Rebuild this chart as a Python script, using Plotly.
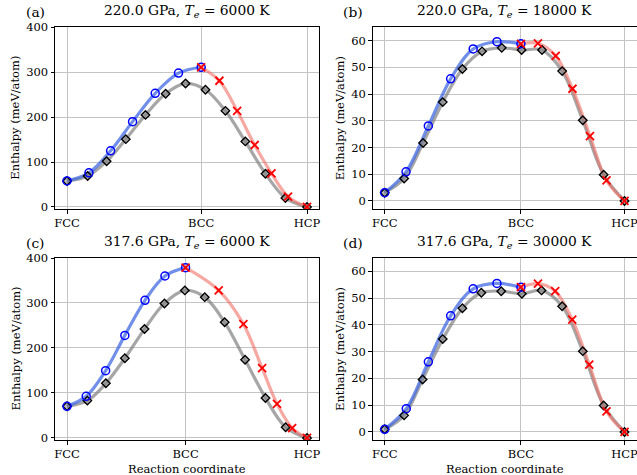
import plotly.graph_objects as go

# ---------------- data ----------------
panel_labels = ["(a)", "(b)", "(c)", "(d)"]
pressures = ["220.0", "220.0", "317.6", "317.6"]
temps = ["6000", "18000", "6000", "30000"]
tick_labels = ["FCC", "BCC", "HCP"]
bcc_pos = [0.559, 0.568, 0.494, 0.568]

# FCC -> BCC (blue circles)
a_fb_x = [0, 0.0915, 0.1817, 0.2732, 0.3675, 0.4646, 0.559]
a_fb_y = [58, 76, 125, 190, 253, 298, 311]
b_fb_x = [0, 0.089, 0.182, 0.275, 0.369, 0.468, 0.568]
b_fb_y = [3.1, 10.9, 28.1, 45.7, 56.9, 59.6, 58.8]
c_fb_x = [0, 0.080, 0.161, 0.241, 0.325, 0.408, 0.494]
c_fb_y = [70.4, 92.6, 149.6, 228, 306, 360, 378.5]
d_fb_x = [0, 0.090, 0.182, 0.275, 0.369, 0.468, 0.568]
d_fb_y = [1.0, 8.7, 26.2, 43.4, 53.5, 55.5, 54.1]

# BCC -> HCP (red crosses)
a_bh_x = [0.559, 0.635, 0.709, 0.782, 0.852, 0.921, 1.0]
a_bh_y = [311, 281, 214, 138, 75, 23, 0]
b_bh_x = [0.568, 0.639, 0.713, 0.783, 0.856, 0.925, 1.0]
b_bh_y = [58.8, 59.0, 54.3, 42.0, 24.3, 7.7, 0]
c_bh_x = [0.494, 0.632, 0.735, 0.813, 0.875, 0.938, 1.0]
c_bh_y = [378.5, 328, 253, 155, 76, 22, 0]
d_bh_x = [0.568, 0.639, 0.711, 0.782, 0.853, 0.925, 1.0]
d_bh_y = [54.1, 55.4, 52.6, 42.0, 25.2, 7.7, 0]

# FCC -> HCP direct (black diamonds)
a_fh_x = [0, 0.086, 0.165, 0.245, 0.327, 0.411, 0.494, 0.577, 0.660, 0.743, 0.827, 0.910, 1.0]
a_fh_y = [58, 69, 102, 151, 205, 252, 275, 261, 214, 146, 74, 20, 0]
b_fh_x = [0, 0.081, 0.160, 0.242, 0.324, 0.406, 0.488, 0.571, 0.656, 0.740, 0.826, 0.913, 1.0]
b_fh_y = [3.1, 8.4, 21.7, 37.0, 49.4, 56.0, 57.3, 56.5, 56.5, 48.6, 30.2, 9.8, 0]
c_fh_x = [0, 0.085, 0.162, 0.241, 0.323, 0.406, 0.491, 0.574, 0.657, 0.742, 0.827, 0.911, 1.0]
c_fh_y = [70.4, 83, 121.5, 177, 242, 299, 328, 313, 257, 174, 89, 23.7, 0]
d_fh_x = [0, 0.081, 0.158, 0.242, 0.324, 0.403, 0.486, 0.572, 0.654, 0.740, 0.826, 0.913, 1.0]
d_fh_y = [1.0, 6.2, 19.6, 34.7, 46.2, 52.0, 52.6, 51.6, 52.9, 47.0, 30.2, 9.9, 0]

fb = [(a_fb_x, a_fb_y), (b_fb_x, b_fb_y), (c_fb_x, c_fb_y), (d_fb_x, d_fb_y)]
bh = [(a_bh_x, a_bh_y), (b_bh_x, b_bh_y), (c_bh_x, c_bh_y), (d_bh_x, d_bh_y)]
fh = [(a_fh_x, a_fh_y), (b_fh_x, b_fh_y), (c_fh_x, c_fh_y), (d_fh_x, d_fh_y)]

y_ranges = [[-4.5, 400], [-3, 65], [-4.5, 400], [-3, 65]]
y_ticks = [[0, 100, 200, 300, 400], [0, 10, 20, 30, 40, 50, 60],
           [0, 100, 200, 300, 400], [0, 10, 20, 30, 40, 50, 60]]

# ---------------- layout geometry ----------------
W, H = 637, 475
FONT = "DejaVu Serif"
col_px = [(55, 319), (372.7, 636.5)]
row_px = [(27.3, 209), (258, 440)]

fig = go.Figure()

def px2x(p):
    return p / W

def px2y(p):
    return 1 - p / H

annotations = []
for i in range(4):
    r, c = divmod(i, 2)
    xa = "x" if i == 0 else f"x{i+1}"
    ya = "y" if i == 0 else f"y{i+1}"
    # lines
    for (xs, ys), col in [(fh[i], "rgba(128,128,128,0.7)"),
                          (fb[i], "rgba(65,105,225,0.75)"),
                          (bh[i], "rgba(240,110,100,0.6)")]:
        fig.add_trace(go.Scatter(x=xs, y=ys, mode="lines", xaxis=xa, yaxis=ya,
                                 line=dict(color=col, width=3.2, shape="spline", smoothing=1.0),
                                 showlegend=False, hoverinfo="skip"))
    # markers
    fig.add_trace(go.Scatter(x=fh[i][0], y=fh[i][1], mode="markers", xaxis=xa, yaxis=ya,
                             marker=dict(symbol="diamond", size=6.5, color="rgba(128,128,128,0.55)",
                                         line=dict(color="black", width=1.4)),
                             showlegend=False))
    fig.add_trace(go.Scatter(x=fb[i][0], y=fb[i][1], mode="markers", xaxis=xa, yaxis=ya,
                             marker=dict(symbol="circle-open", size=8, color="blue",
                                         line=dict(color="blue", width=1.5)),
                             showlegend=False))
    fig.add_trace(go.Scatter(x=bh[i][0], y=bh[i][1], mode="markers", xaxis=xa, yaxis=ya,
                             marker=dict(symbol="x-thin-open", size=8, color="red",
                                         line=dict(color="red", width=1.8)),
                             showlegend=False))

    x0, x1 = col_px[c]
    y0, y1 = row_px[r]
    axis_common = dict(showline=True, linecolor="black", linewidth=1, mirror=True,
                       ticks="outside", ticklen=3.5, tickcolor="black", tickwidth=1,
                       showgrid=True, gridcolor="#c4c4c4", gridwidth=1, zeroline=False,
                       automargin=False, ticklabeloverflow="allow",
                       tickfont=dict(family=FONT, size=11.5, color="black"))
    fig.layout[("xaxis" if i == 0 else f"xaxis{i+1}")] = dict(
        domain=[px2x(x0), px2x(x1)], anchor=ya, range=[-0.05, 1.05],
        tickvals=[0, bcc_pos[i], 1], ticktext=tick_labels, **axis_common)
    fig.layout[("yaxis" if i == 0 else f"yaxis{i+1}")] = dict(
        domain=[px2y(y1), px2y(y0)], anchor=xa, range=y_ranges[i],
        tickvals=y_ticks[i], **axis_common)

    xc = (x0 + x1) / 2
    annotations.append(dict(text=f"{pressures[i]} GPa, <i>T</i><sub><i>e</i></sub> = {temps[i]} K",
                            x=px2x(xc), y=px2y(y0 - 5), xref="paper", yref="paper",
                            xanchor="center", yanchor="bottom", showarrow=False,
                            font=dict(family=FONT, size=13.8, color="black")))
    annotations.append(dict(text=panel_labels[i], x=px2x(24 if c == 0 else 341), y=px2y(y0 - 5),
                            xref="paper", yref="paper", xanchor="left", yanchor="bottom",
                            showarrow=False, font=dict(family=FONT, size=13.8, color="black")))
    annotations.append(dict(text="Enthalpy (meV/atom)", textangle=-90,
                            x=px2x(15.5 if c == 0 else 340), y=px2y((y0 + y1) / 2),
                            xref="paper", yref="paper", xanchor="center", yanchor="middle",
                            showarrow=False, font=dict(family=FONT, size=11.5, color="black")))
    if r == 1:
        annotations.append(dict(text="Reaction coordinate", x=px2x(xc), y=px2y(468.5),
                                xref="paper", yref="paper", xanchor="center", yanchor="middle",
                                showarrow=False, font=dict(family=FONT, size=11.5, color="black")))

fig.update_layout(width=W, height=H, margin=dict(l=0, r=0, t=0, b=0, autoexpand=False),
                  paper_bgcolor="white", plot_bgcolor="white",
                  annotations=annotations, showlegend=False)

fig.write_html("out.html", config={"displayModeBar": False},
               post_script="document.body.style.margin='0';document.body.style.padding='0';")
